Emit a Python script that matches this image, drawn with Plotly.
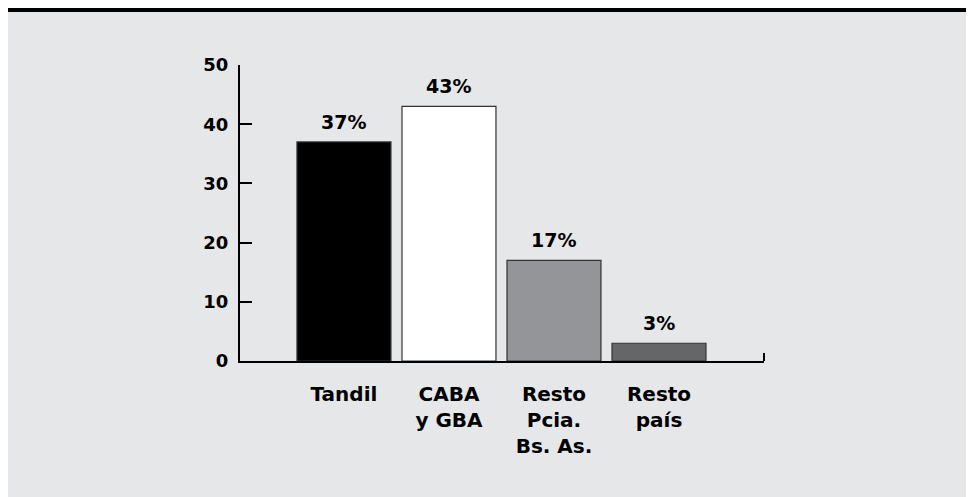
import plotly.graph_objects as go

categories = ["Tandil", "CABA<br>y GBA", "Resto<br>Pcia.<br>Bs. As.", "Resto<br>país"]
values = [37, 43, 17, 3]
value_labels = ["37%", "43%", "17%", "3%"]
y_ticks = [0, 10, 20, 30, 40, 50]

bar_colors = ["#000000", "#ffffff", "#939598", "#656668"]
FONT = "DejaVu Sans"
BG = "#e6e7e8"

x_idx = list(range(len(categories)))

# page has an 8px body margin; figure coordinates compensate for it
W, H = 966, 489
L, R, T, B = 232, 210, 57, 136
PW, PH = W - L - R, H - T - B

fig = go.Figure()
fig.add_trace(go.Bar(
    x=x_idx, y=values, width=0.895,
    marker=dict(color=bar_colors, line=dict(color="#333333", width=1.2)),
    hoverinfo="skip",
))

for xi, v, t in zip(x_idx, values, value_labels):
    fig.add_annotation(x=xi, y=v, text=t, showarrow=False, yanchor="bottom",
                       yshift=7, font=dict(family=FONT, size=19, color="black", weight="bold"))

fig.update_layout(
    width=W, height=H,
    margin=dict(l=L, r=R, t=T, b=B),
    paper_bgcolor=BG, plot_bgcolor=BG,
    showlegend=False,
    font=dict(family=FONT, size=18, color="black", weight="bold"),
    shapes=[
        dict(type="rect", xref="paper", yref="paper", x0=-L / PW, x1=1 + R / PW,
             y0=(PH + T - 4) / PH, y1=(PH + T + 2) / PH, fillcolor="white", line_width=0),
        dict(type="rect", xref="paper", yref="paper", x0=-L / PW, x1=1 + R / PW,
             y0=(PH + T - 4) / PH, y1=(PH + T) / PH, fillcolor="black", line_width=0),
        dict(type="line", xref="paper", yref="paper", x0=1, x1=1, y0=0, y1=8 / PH,
             line=dict(color="black", width=2)),
    ],
)

fig.update_xaxes(
    range=[-0.99, 4.0], tickmode="array", tickvals=x_idx, ticktext=categories,
    showline=True, linecolor="black", linewidth=2, ticks="", showgrid=False,
    zeroline=False, ticklabelstandoff=14,
    tickfont=dict(family=FONT, size=20, color="black", weight="bold"),
)
fig.update_yaxes(
    range=[0, 50], tickmode="array", tickvals=y_ticks,
    showline=True, linecolor="black", linewidth=2, ticks="inside", ticklen=12,
    tickwidth=2, tickcolor="black", showgrid=False, zeroline=False,
    ticklabelstandoff=6,
    tickfont=dict(family=FONT, size=18, color="black", weight="bold"),
)

fig.write_html("out.html")
